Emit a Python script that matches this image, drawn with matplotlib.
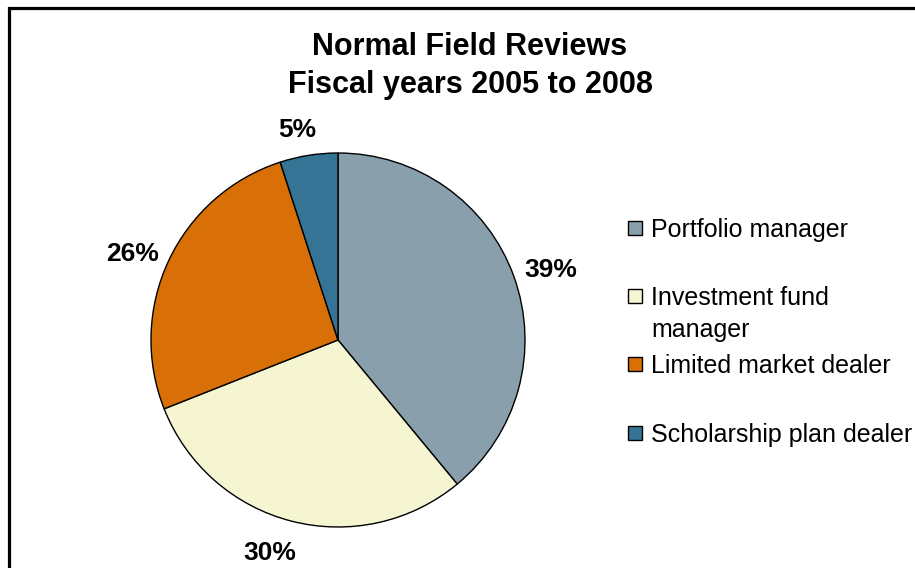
import matplotlib
matplotlib.use("Agg")
import matplotlib.pyplot as plt
from matplotlib.patches import Rectangle

categories = ["Portfolio manager", "Investment fund\nmanager", "Limited market dealer", "Scholarship plan dealer"]
values = [39, 30, 26, 5]
colors = ["#8A9FAC", "#F5F5D2", "#D86F07", "#357494"]
title = "Normal Field Reviews\nFiscal years 2005 to 2008"
# label placement (in pie radius units), as in the reference
label_pos = [(1.139, 0.375), (-0.364, -1.138), (-1.096, 0.461), (-0.219, 1.124)]

plt.rcParams['font.family'] = ['Liberation Sans', 'DejaVu Sans']

W, H = 915, 568
fig = plt.figure(figsize=(W / 100, H / 100), dpi=100)
fig.patch.set_facecolor("white")

cx, cy, r = 338, 340, 187
ax = fig.add_axes([(cx - r) / W, (H - cy - r) / H, 2 * r / W, 2 * r / H])
wedges, texts = ax.pie(values, colors=colors, startangle=90, counterclock=False,
                       labels=[f"{v}%" for v in values], labeldistance=1.2,
                       wedgeprops=dict(edgecolor="black", linewidth=1.0),
                       textprops=dict(fontsize=19, fontweight="bold"))
for t, p in zip(texts, label_pos):
    t.set_position(p)
    t.set_ha("center")
    t.set_va("center")
ax.set_xlim(-1, 1)
ax.set_ylim(-1, 1)
ax.set_aspect("equal")
ax.axis("off")

fig.text(470 / W, 1 - 66 / H, title, ha="center", va="center",
         fontsize=22, fontweight="bold", linespacing=1.38)

# legend
ys = [228, 296, 364, 433]
for c, lab, y in zip(colors, categories, ys):
    fig.patches.append(Rectangle((628 / W, 1 - (y + 7) / H), 14 / W, 14 / H,
                                 transform=fig.transFigure, facecolor=c,
                                 edgecolor="black", linewidth=1.0))
    fig.text(651 / W, 1 - (y - 10) / H, lab, ha="left", va="top",
             fontsize=18, linespacing=1.42)

# frame (left and top edges visible)
fig.patches.append(Rectangle((9 / W, -0.1), 1.2, 1 - 8 / H + 0.1,
                             transform=fig.transFigure, fill=False,
                             edgecolor="black", linewidth=2.3))

fig.savefig("out.png", dpi=100)
